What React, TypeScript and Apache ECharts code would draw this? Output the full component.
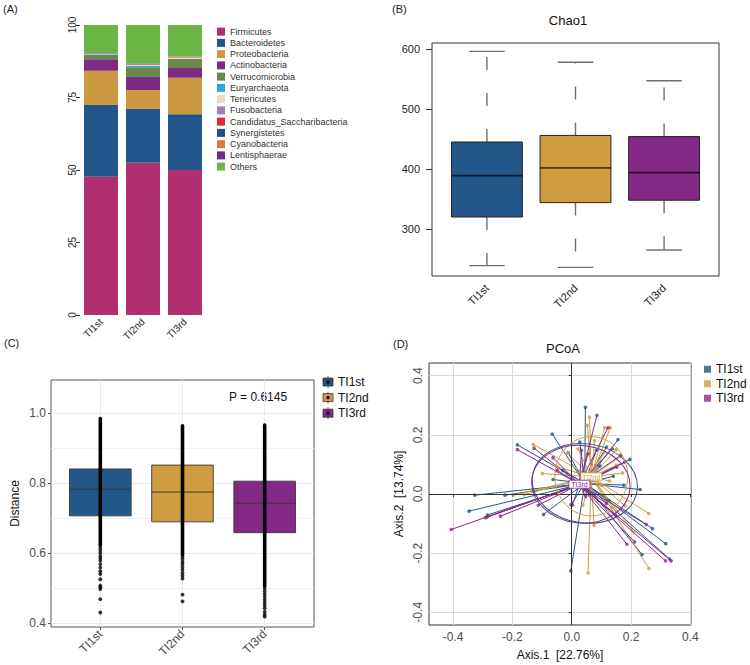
import React, { useEffect, useRef } from 'react';
import * as echarts from 'echarts';

const FONT = "'Liberation Sans', Arial, sans-serif";

// ---------- shared ----------
const groups = ['TI1st', 'TI2nd', 'TI3rd'];
const groupColors = ['#235689', '#CF9C40', '#832A86'];

// ---------- Panel A : relative abundance (%) ----------
const phyla = [
  'Firmicutes', 'Bacteroidetes', 'Proteobacteria', 'Actinobacteria', 'Verrucomicrobia',
  'Euryarchaeota', 'Tenericutes', 'Fusobacteria', 'Candidatus_Saccharibacteria',
  'Synergistetes', 'Cyanobacteria', 'Lentisphaerae', 'Others',
];
const phylaColors = [
  '#B12F6F', '#22568A', '#CB9A40', '#7D2A83', '#6C8848', '#2EA7D9', '#F2D8C0',
  '#A57CB8', '#E32A2A', '#1E4F8E', '#E07A33', '#6F2A86', '#6AB544',
];
const firmicutes = [47.7, 52.5, 50.0];
const bacteroidetes = [24.7, 18.5, 19.2];
const proteobacteria = [11.8, 6.6, 12.6];
const actinobacteria = [4.0, 4.5, 3.4];
const verrucomicrobia = [1.5, 3.3, 3.1];
const euryarchaeota = [0.2, 0.5, 0.05];
const tenericutes = [0.15, 0.3, 0.4];
const fusobacteria = [0.1, 0.3, 0.15];
const saccharibacteria = [0.05, 0.05, 0.05];
const synergistetes = [0.05, 0.05, 0.05];
const cyanobacteria = [0.05, 0.05, 0.05];
const lentisphaerae = [0.05, 0.05, 0.05];
const others = [9.65, 13.3, 10.9];
const phylaValues = [
  firmicutes, bacteroidetes, proteobacteria, actinobacteria, verrucomicrobia,
  euryarchaeota, tenericutes, fusobacteria, saccharibacteria, synergistetes,
  cyanobacteria, lentisphaerae, others,
];

// ---------- Panel B : Chao1 ----------
const chaoMin = [239, 236, 265];
const chaoQ1 = [320, 344, 348];
const chaoMedian = [389, 402, 394];
const chaoQ3 = [445, 456, 454];
const chaoMax = [596, 578, 547];
const chaoTicks = [300, 400, 500, 600];

// ---------- Panel C : distance ----------
const distQ1 = [0.706, 0.689, 0.658];
const distMedian = [0.782, 0.774, 0.742];
const distQ3 = [0.840, 0.851, 0.805];
const denseLow = [0.625, 0.595, 0.505];
const denseHigh = [0.984, 0.963, 0.965];
const sparseTI1st = [0.430, 0.468, 0.497, 0.502, 0.507, 0.525, 0.540, 0.548, 0.558, 0.568, 0.578, 0.585, 0.592, 0.600, 0.608, 0.615, 0.622];
const sparseTI2nd = [0.462, 0.481, 0.527, 0.535, 0.543, 0.552, 0.560, 0.568, 0.575, 0.583, 0.590];
const sparseTI3rd = [0.418, 0.424, 0.432, 0.442, 0.450, 0.458, 0.466, 0.474, 0.482, 0.490, 0.498];
const distTicks = [0.4, 0.6, 0.8, 1.0];
const distMinorTicks = [0.5, 0.7, 0.9];
const pValueText = 'P = 0.6145';

// ---------- Panel D : PCoA ----------
const pcoaTicks = [-0.4, -0.2, 0, 0.2, 0.4];
const centroids = [[0.044, 0.036], [0.066, 0.058], [0.026, 0.033]];
// [cx, cy, rx, ry, rotationDeg]
const ellipses = [
  [0.044, 0.036, 0.178, 0.134, -8],
  [0.066, 0.060, 0.123, 0.134, 0],
  [0.031, 0.033, 0.166, 0.131, -6],
];
const pointsTI1st = [
  [0.046, 0.293], [-0.066, 0.203], [-0.183, 0.166], [0.156, 0.184], [0.196, 0.117],
  [0.231, 0.015], [0.176, 0.030], [0.117, 0.159], [0.027, 0.176], [0.083, 0.148],
  [-0.012, 0.139], [-0.063, 0.049], [-0.327, -0.004], [-0.225, -0.004], [-0.346, -0.058],
  [-0.284, -0.071], [-0.095, -0.069], [-0.003, -0.260], [-0.002, -0.036], [0.272, -0.117],
  [0.317, -0.168], [0.330, -0.220], [0.237, -0.205], [0.125, -0.021], [0.095, 0.095],
  [0.060, 0.000], [-0.030, 0.080], [0.140, 0.060],
];
const pointsTI2nd = [
  [0.053, 0.232], [0.060, 0.260], [0.111, 0.224], [0.130, 0.224], [0.150, 0.150],
  [-0.012, 0.138], [0.021, 0.153], [0.172, 0.071], [0.128, 0.044], [0.150, 0.097],
  [-0.130, 0.168], [-0.099, 0.069], [-0.197, -0.004], [-0.160, -0.002], [0.260, -0.066],
  [0.260, -0.252], [0.055, -0.267], [0.075, -0.106], [0.077, 0.181], [0.164, 0.127],
  [-0.046, 0.091], [0.100, 0.029], [0.150, -0.061], [0.038, -0.038], [0.111, 0.142],
  [0.210, -0.130], [0.180, -0.040],
];
const pointsTI3rd = [
  [0.085, 0.266], [0.122, 0.224], [0.165, 0.131], [0.178, 0.108], [-0.183, 0.150],
  [-0.127, 0.155], [-0.063, 0.123], [-0.049, 0.080], [-0.406, -0.120], [-0.291, -0.080],
  [-0.285, -0.078], [-0.240, -0.075], [-0.113, -0.038], [0.251, -0.103], [0.212, -0.162],
  [0.186, -0.170], [0.316, -0.226], [0.335, -0.226], [0.033, 0.148], [0.055, 0.136],
  [0.137, 0.153], [0.152, 0.091], [0.047, -0.008], [0.117, -0.032], [0.002, -0.038],
  [0.148, -0.072], [0.080, 0.050],
];
const pcoaPoints = [pointsTI1st, pointsTI2nd, pointsTI3rd];
const labelledGroups = [1, 2];

// ---------- option builders ----------
const B_BOX_W = 0.8;
const B_CAP_W = 0.4;
const C_BOX_W = 0.75;

function txt(text: string, x: number, y: number, size: number, align = 'left', color = '#222', rotation = 0) {
  return {
    type: 'text', x, y, rotation, silent: true,
    style: {
      text, fill: color, fontSize: size, fontFamily: FONT,
      textAlign: align, textVerticalAlign: 'middle', align, verticalAlign: 'middle',
    },
  };
}

function buildOption() {
  const barSeries = phyla.map((name, i) => ({
    type: 'bar', name, stack: 'abund', xAxisIndex: 0, yAxisIndex: 0,
    barWidth: 34, data: phylaValues[i], itemStyle: { color: phylaColors[i] },
  }));

  const bData = groups.map((_, i) => [i + 1, chaoMin[i], chaoQ1[i], chaoMedian[i], chaoQ3[i], chaoMax[i]]);
  const chaoSeries = {
    type: 'custom', xAxisIndex: 1, yAxisIndex: 1, data: bData, silent: true,
    encode: { x: 0, y: [1, 2, 3, 4, 5] },
    renderItem: (params: any, api: any) => {
      const x = api.value(0);
      const cLo = api.coord([x, api.value(1)]);
      const yQ1 = api.coord([x, api.value(2)])[1];
      const yMd = api.coord([x, api.value(3)])[1];
      const yQ3 = api.coord([x, api.value(4)])[1];
      const yHi = api.coord([x, api.value(5)])[1];
      const cx = cLo[0];
      const yLo = cLo[1];
      const w = api.size([B_BOX_W, 0])[0];
      const cw = api.size([B_CAP_W, 0])[0];
      const col = groupColors[params.dataIndex];
      const wStyle = { stroke: '#6f6f6f', lineWidth: 1.4, lineDash: [13, 23] };
      const cStyle = { stroke: '#6f6f6f', lineWidth: 1.4 };
      return {
        type: 'group',
        children: [
          { type: 'line', shape: { x1: cx, y1: yQ3, x2: cx, y2: yHi }, style: wStyle },
          { type: 'line', shape: { x1: cx, y1: yQ1, x2: cx, y2: yLo }, style: wStyle },
          { type: 'line', shape: { x1: cx - cw / 2, y1: yHi, x2: cx + cw / 2, y2: yHi }, style: cStyle },
          { type: 'line', shape: { x1: cx - cw / 2, y1: yLo, x2: cx + cw / 2, y2: yLo }, style: cStyle },
          { type: 'rect', shape: { x: cx - w / 2, y: yQ3, width: w, height: yQ1 - yQ3 }, style: { fill: col, stroke: '#222', lineWidth: 1 } },
          { type: 'line', shape: { x1: cx - w / 2, y1: yMd, x2: cx + w / 2, y2: yMd }, style: { stroke: 'rgba(0,0,0,0.65)', lineWidth: 1.8 } },
        ],
      };
    },
  };

  const cData = groups.map((_, i) => [i + 1, distQ1[i], distMedian[i], distQ3[i], denseLow[i], denseHigh[i]]);
  const distSeries = {
    type: 'custom', xAxisIndex: 2, yAxisIndex: 2, data: cData, silent: true,
    encode: { x: 0, y: [1, 2, 3, 4, 5] },
    renderItem: (params: any, api: any) => {
      const x = api.value(0);
      const cx = api.coord([x, api.value(1)])[0];
      const yQ1 = api.coord([x, api.value(1)])[1];
      const yMd = api.coord([x, api.value(2)])[1];
      const yQ3 = api.coord([x, api.value(3)])[1];
      const yDl = api.coord([x, api.value(4)])[1];
      const yDh = api.coord([x, api.value(5)])[1];
      const w = api.size([C_BOX_W, 0])[0];
      const col = groupColors[params.dataIndex];
      return {
        type: 'group',
        children: [
          { type: 'rect', shape: { x: cx - w / 2, y: yQ3, width: w, height: yQ1 - yQ3 }, style: { fill: col, stroke: '#3a3a3a', lineWidth: 0.9 } },
          { type: 'line', shape: { x1: cx - w / 2, y1: yMd, x2: cx + w / 2, y2: yMd }, style: { stroke: '#3a3a3a', lineWidth: 1 } },
          { type: 'line', shape: { x1: cx, y1: yDl, x2: cx, y2: yDh }, style: { stroke: '#000', lineWidth: 3.6, lineCap: 'round' } },
        ],
      };
    },
  };
  const sparseData: number[][] = [];
  [sparseTI1st, sparseTI2nd, sparseTI3rd].forEach((arr, gi) => arr.forEach((v) => sparseData.push([gi + 1, v])));
  const sparseSeries = {
    type: 'scatter', xAxisIndex: 2, yAxisIndex: 2, data: sparseData, symbolSize: 3.8,
    itemStyle: { color: '#000' }, silent: true, z: 3,
  };

  const ellipseSeries = {
    type: 'custom', xAxisIndex: 3, yAxisIndex: 4, data: ellipses, silent: true, z: 5,
    encode: { x: 0, y: 1 },
    renderItem: (params: any, api: any) => {
      const cxv = api.value(0);
      const cyv = api.value(1);
      const c = api.coord([cxv, cyv]);
      const rxPx = Math.abs(api.coord([cxv + api.value(2), cyv])[0] - c[0]);
      const ryPx = Math.abs(api.coord([cxv, cyv + api.value(3)])[1] - c[1]);
      return {
        type: 'ellipse', x: c[0], y: c[1], rotation: (api.value(4) * Math.PI) / 180,
        shape: { cx: 0, cy: 0, rx: rxPx, ry: ryPx },
        style: { fill: 'none', stroke: groupColors[params.dataIndex], lineWidth: 1 },
      };
    },
  };

  const pcoaSeries: any[] = [];
  groups.forEach((g, gi) => {
    pcoaSeries.push({
      type: 'lines', name: g + ' spider', coordinateSystem: 'cartesian2d', xAxisIndex: 3, yAxisIndex: 4,
      data: pcoaPoints[gi].map((p) => ({ coords: [centroids[gi], p] })),
      lineStyle: { color: groupColors[gi], width: 1, opacity: 1 }, silent: true, z: 3,
    });
    pcoaSeries.push({
      type: 'scatter', name: g, xAxisIndex: 3, yAxisIndex: 4, data: pcoaPoints[gi],
      symbolSize: 3.6, itemStyle: { color: groupColors[gi] }, silent: true, z: 4,
    });
  });

  const zeroSeries = {
    type: 'scatter', xAxisIndex: 3, yAxisIndex: 4, data: [[0, 0]], symbolSize: 0, silent: true, z: 2,
    markLine: {
      silent: true, symbol: ['none', 'none'], label: { show: false }, animation: false,
      lineStyle: { color: '#333', width: 1, type: 'solid' },
      data: [{ xAxis: 0 }, { yAxis: 0 }],
    },
  };

  const labelSeries = {
    type: 'custom', xAxisIndex: 3, yAxisIndex: 4, silent: true, z: 6,
    data: labelledGroups.map((gi) => [centroids[gi][0], centroids[gi][1], gi]),
    encode: { x: 0, y: 1 },
    renderItem: (params: any, api: any) => {
      const c = api.coord([api.value(0), api.value(1)]);
      const gi = api.value(2);
      const col = groupColors[gi];
      const w = 21;
      const h = 8;
      return {
        type: 'group',
        children: [
          { type: 'rect', shape: { x: c[0] - w / 2, y: c[1] - h / 2, width: w, height: h }, style: { fill: '#fff', stroke: col, lineWidth: 0.8 } },
          {
            type: 'text', x: c[0], y: c[1] + 0.3,
            style: { text: groups[gi], fill: col, fontSize: 7, fontFamily: FONT, align: 'center', verticalAlign: 'middle' },
          },
        ],
      };
    },
  };

  const graphics: any[] = [
    txt('(A)', 3, 9, 11),
    txt('(B)', 392, 9, 11),
    txt('(C)', 4, 343, 11),
    txt('(D)', 393, 344, 11),
    txt('Chao1', 568, 20, 13, 'center', '#111'),
    txt('PCoA', 563, 348, 13, 'center', '#111'),
    txt(pValueText, 258, 397, 12, 'center', '#111'),
  ];
  groups.forEach((g, i) => {
    const y = 382 + i * 15.6;
    graphics.push({ type: 'line', silent: true, shape: { x1: 328, y1: y - 6, x2: 328, y2: y + 6 }, style: { stroke: '#333', lineWidth: 0.8 } });
    graphics.push({ type: 'rect', silent: true, shape: { x: 323, y: y - 4, width: 10, height: 8 }, style: { fill: groupColors[i], stroke: '#333', lineWidth: 0.8 } });
    graphics.push({ type: 'circle', silent: true, shape: { cx: 328, cy: y, r: 1.7 }, style: { fill: '#000' } });
    graphics.push(txt(g, 338, y, 12, 'left', '#111'));
  });

  const lbl = (size: number, color: string) => ({ fontSize: size, fontFamily: FONT, color });

  return {
    animation: false,
    backgroundColor: '#fff',
    textStyle: { fontFamily: FONT },
    grid: [
      { left: 80, top: 25, width: 126, height: 290 },
      { left: 432, top: 43, width: 287, height: 233, show: true, borderColor: '#333', borderWidth: 1 },
      { left: 51, top: 380, width: 263, height: 247, show: true, borderColor: '#555', borderWidth: 1 },
      { left: 429, top: 363, width: 262, height: 262, show: true, borderColor: '#333', borderWidth: 1 },
    ],
    legend: [
      {
        data: phyla, orient: 'vertical', left: 217, top: 26, padding: 0, itemWidth: 8, itemHeight: 8, itemGap: 0,
        icon: 'rect', selectedMode: false, textStyle: { fontSize: 9, lineHeight: 11.25, color: '#333', fontFamily: FONT },
      },
      {
        data: groups, orient: 'vertical', left: 704, top: 362, padding: 0, itemWidth: 7, itemHeight: 7, itemGap: 0,
        icon: 'rect', selectedMode: false, textStyle: { fontSize: 12, lineHeight: 14.5, color: '#111', fontFamily: FONT },
      },
    ],
    xAxis: [
      {
        type: 'category', gridIndex: 0, data: groups,
        axisLine: { show: false }, axisTick: { show: false },
        axisLabel: { ...lbl(10, '#222'), rotate: 45, margin: 5 },
      },
      {
        type: 'value', gridIndex: 1, min: 0.38, max: 3.62,
        axisLine: { show: false }, axisTick: { show: false }, splitLine: { show: false },
        axisLabel: { ...lbl(11, '#222'), rotate: 45, margin: 10, customValues: [1, 2, 3], formatter: (v: number) => groups[Math.round(v) - 1] },
      },
      {
        type: 'value', gridIndex: 2, min: 0.4, max: 3.6,
        axisLine: { show: false },
        axisTick: { show: true, length: 3, customValues: [1, 2, 3], lineStyle: { color: '#555' } },
        splitLine: { show: true, lineStyle: { color: '#ebebeb', width: 1 } },
        axisLabel: { ...lbl(12, '#4d4d4d'), rotate: 45, margin: 5, customValues: [1, 2, 3], formatter: (v: number) => groups[Math.round(v) - 1] },
      },
      {
        type: 'value', gridIndex: 3, min: -0.481, max: 0.402,
        axisLine: { show: false },
        axisTick: { show: true, length: 3, customValues: pcoaTicks, lineStyle: { color: '#333' } },
        splitLine: { show: true, lineStyle: { color: '#d9d9d9', width: 1 } },
        axisLabel: { ...lbl(12, '#4d4d4d'), margin: 6, customValues: pcoaTicks, formatter: (v: number) => v.toFixed(1) },
        name: 'Axis.1  [22.76%]', nameLocation: 'middle', nameGap: 24,
        nameTextStyle: lbl(12, '#111'),
      },
    ],
    yAxis: [
      {
        type: 'value', gridIndex: 0, min: 0, max: 100, interval: 25,
        axisLine: { show: false }, axisTick: { show: true, length: 4, lineStyle: { color: '#333' } },
        splitLine: { show: false },
        axisLabel: { ...lbl(10, '#222'), rotate: 90, margin: 3 },
      },
      {
        type: 'value', gridIndex: 1, min: 221.7, max: 610,
        axisLine: { show: false },
        axisTick: { show: true, length: 6, customValues: chaoTicks, lineStyle: { color: '#333' } },
        splitLine: { show: false },
        axisLabel: { ...lbl(11, '#222'), margin: 12, customValues: chaoTicks },
      },
      {
        type: 'value', gridIndex: 2, min: 0.3886, max: 1.094,
        axisLine: { show: false },
        axisTick: { show: true, length: 3, customValues: distTicks, lineStyle: { color: '#555' } },
        splitLine: { show: true, lineStyle: { color: '#ebebeb', width: 1 } },
        axisLabel: { ...lbl(12, '#4d4d4d'), margin: 5, customValues: distTicks, formatter: (v: number) => v.toFixed(1) },
        name: 'Distance', nameLocation: 'middle', nameGap: 30, nameTextStyle: lbl(12, '#111'),
      },
      {
        type: 'value', gridIndex: 2, min: 0.3886, max: 1.094, position: 'right',
        axisLine: { show: false }, axisLabel: { show: false },
        axisTick: { show: false, customValues: distMinorTicks },
        splitLine: { show: true, lineStyle: { color: '#f3f3f3', width: 1 } },
      },
      {
        type: 'value', gridIndex: 3, min: -0.443, max: 0.443,
        axisLine: { show: false },
        axisTick: { show: true, length: 3, customValues: pcoaTicks, lineStyle: { color: '#333' } },
        splitLine: { show: true, lineStyle: { color: '#d9d9d9', width: 1 } },
        axisLabel: { ...lbl(12, '#4d4d4d'), rotate: 90, margin: 5, customValues: pcoaTicks, formatter: (v: number) => v.toFixed(1) },
        name: 'Axis.2  [13.74%]', nameLocation: 'middle', nameGap: 24, nameTextStyle: lbl(12, '#111'),
      },
    ],
    graphic: graphics,
    series: [
      ...barSeries,
      chaoSeries,
      distSeries,
      sparseSeries,
      zeroSeries,
      ...pcoaSeries,
      ellipseSeries,
      labelSeries,
    ],
  };
}

export default function App() {
  const ref = useRef<HTMLDivElement>(null);
  useEffect(() => {
    if (!ref.current) return;
    const chart = echarts.init(ref.current, null, { renderer: 'svg' });
    chart.setOption(buildOption() as any);
    return () => chart.dispose();
  }, []);
  return (
    <div
      ref={ref}
      style={{ position: 'fixed', left: 0, top: 0, width: 750, height: 665, background: '#fff' }}
    />
  );
}
